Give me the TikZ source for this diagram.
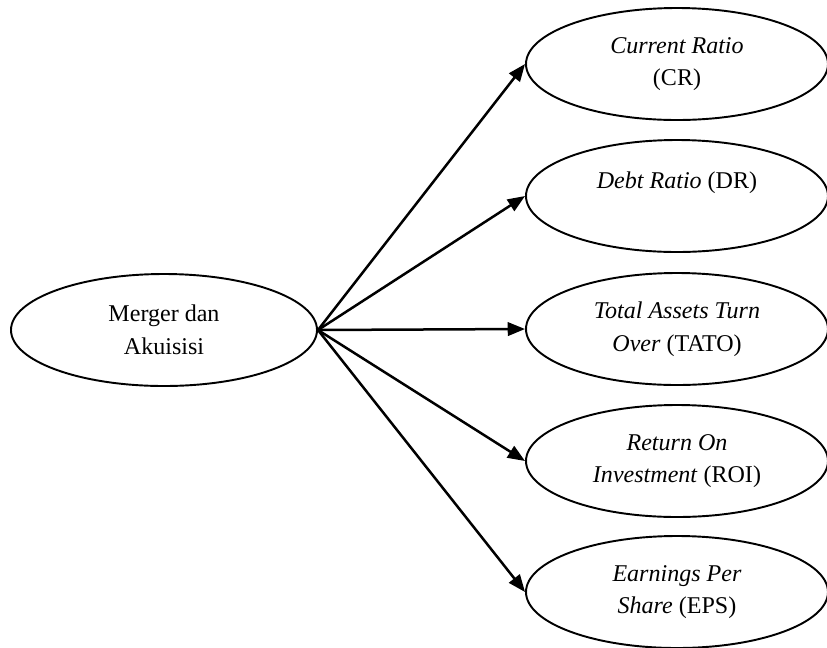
\documentclass[tikz,border=0pt]{standalone}
\usepackage{fontspec}
\setmainfont{Liberation Serif}
\usetikzlibrary{shapes.geometric,arrows.meta}

\begin{document}
\begin{tikzpicture}[x=0.52pt,y=-0.52pt]
    \pgfmathsetmacro{\ellipsewidth}{302*0.52}
    \pgfmathsetmacro{\ellipseheight}{112*0.52}
    \pgfmathsetmacro{\leftwidth}{306*0.52}
    \pgfmathsetmacro{\rightx}{677}
    \providecommand{\boxfontsize}{\fontsize{12.5pt}{17pt}\selectfont}
    \tikzset{
        ratio/.style={ellipse,draw,line width=1pt,align=center,inner sep=1pt,
            minimum width=\ellipsewidth pt,minimum height=\ellipseheight pt,font=\boxfontsize},
        link/.style={line width=1.3pt,-{Triangle[length=9pt,width=7pt]}}
    }
    \useasboundingbox (0,0) rectangle (827,647);
    \node[ratio,minimum width=\leftwidth pt](merger) at (164,330) {Merger dan\\Akuisisi};
    \node[ratio](cr) at (\rightx,64) {\textit{Current Ratio}\\(CR)};
    \node[ratio](dr) at (\rightx,196) {\textit{Debt Ratio} (DR)\\~};
    \node[ratio](tato) at (\rightx,329) {\textit{Total Assets Turn}\\\textit{Over} (TATO)};
    \node[ratio](roi) at (\rightx,461) {\textit{Return On}\\\textit{Investment} (ROI)};
    \node[ratio](eps) at (\rightx,592) {\textit{Earnings Per}\\\textit{Share} (EPS)};
    \draw[link] (merger.east) -- (cr.west);
    \draw[link] (merger.east) -- (dr.west);
    \draw[link] (merger.east) -- (tato.west);
    \draw[link] (merger.east) -- (roi.west);
    \draw[link] (merger.east) -- (eps.west);
\end{tikzpicture}
\end{document}
